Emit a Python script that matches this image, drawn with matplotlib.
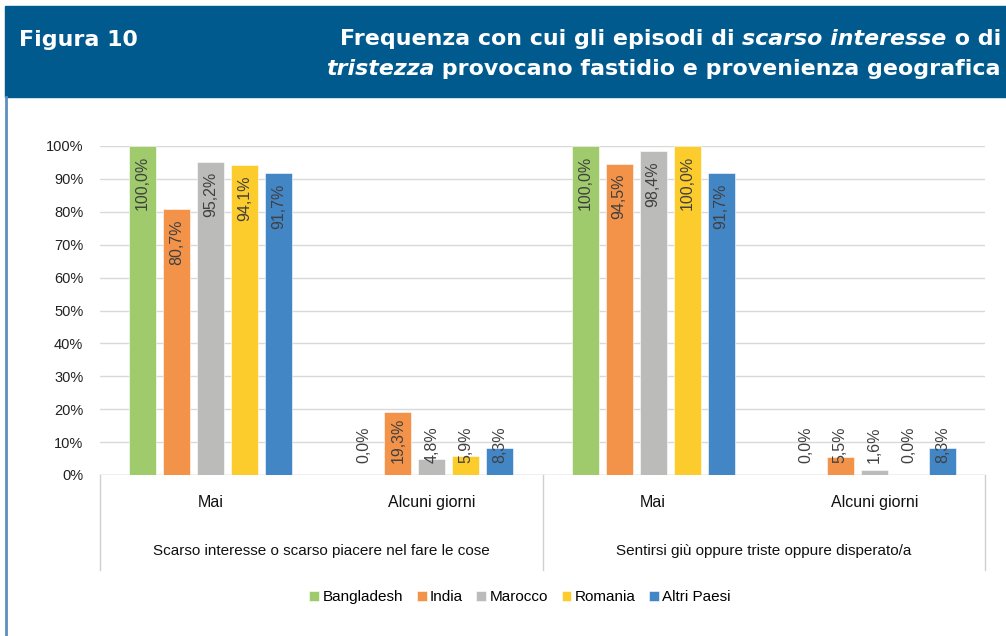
import matplotlib
matplotlib.use("Agg")
import matplotlib.pyplot as plt
from matplotlib.patches import Rectangle
from matplotlib.lines import Line2D
import matplotlib.transforms as mtransforms

# data
groups = ["Scarso interesse o scarso piacere nel fare le cose",
          "Sentirsi giù oppure triste oppure disperato/a"]
freq = ["Mai", "Alcuni giorni"]
countries = ["Bangladesh", "India", "Marocco", "Romania", "Altri Paesi"]
bangladesh = [100.0, 0.0, 100.0, 0.0]
india = [80.7, 19.3, 94.5, 5.5]
marocco = [95.2, 4.8, 98.4, 1.6]
romania = [94.1, 5.9, 100.0, 0.0]
altri = [91.7, 8.3, 91.7, 8.3]
series = [bangladesh, india, marocco, romania, altri]
colors = ["#A0CB6C", "#F3934A", "#BBBBB9", "#FCCB2C", "#4386C6"]

W, H = 1006, 636
fig = plt.figure(figsize=(W / 100, H / 100), dpi=100)
plt.rcParams['font.family'] = ['Liberation Sans', 'DejaVu Sans']

# header band and frame
fig.patches.append(Rectangle((5 / W, 1 - 97 / H), 1, 91 / H, transform=fig.transFigure,
                             color="#015A8D", zorder=0))
fig.lines.append(Line2D([5.5 / W, 5.5 / W], [0, 1 - 97 / H], transform=fig.transFigure,
                        color="#5B8FC2", lw=2))

ax = fig.add_axes([100 / W, 1 - 475 / H, 885 / W, 329 / H])
ncat = len(freq) * len(groups)
slot = 34 / 221
bw = 27 / 221
for i, (vals, c, name) in enumerate(zip(series, colors, countries)):
    xs = [k + (i - 2) * slot for k in range(ncat)]
    ax.bar(xs, vals, width=bw, color=c, label=name, zorder=2, edgecolor="white", linewidth=0.4)
    for x, v in zip(xs, vals):
        lab = f"{v:.1f}%".replace(".", ",")
        if v - 3 - 15 > 3.6:
            ax.text(x, v - 3, lab, rotation=90, ha="center", va="top",
                    fontsize=11.5, color="#404040", zorder=3)
        else:
            ax.text(x, 3.6, lab, rotation=90, ha="center", va="bottom",
                    fontsize=11.5, color="#404040", zorder=3)

ax.set_xlim(-0.5, ncat - 0.5)
ax.set_ylim(0, 100)
ax.set_yticks(range(0, 101, 10))
ax.set_yticklabels([f"{v}%" for v in range(0, 101, 10)], fontsize=10.5, color="#222222")
ax.yaxis.grid(True, color="#D9D9D9", lw=1, zorder=0)
ax.tick_params(axis="y", length=0, pad=12)
ax.set_xticks([])
for s in ax.spines.values():
    s.set_visible(False)
ax.axhline(0, color="#D0D0D0", lw=1, zorder=1)

tr = mtransforms.blended_transform_factory(ax.transData, ax.transAxes)
for k in range(ncat):
    ax.text(k, -0.085, freq[k % 2], transform=tr, ha="center", va="center",
            fontsize=11.5, color="#111111")
for g, name in enumerate(groups):
    ax.text(g * 2 + 0.5, -0.231, name, transform=tr, ha="center", va="center",
            fontsize=11, color="#111111")
for xsep in [-0.5, 1.5, 3.5]:
    ax.plot([xsep, xsep], [0, -0.289], transform=tr, color="#D0D0D0", lw=1, clip_on=False)

fig.legend(loc="center", bbox_to_anchor=(520 / W, 1 - 597 / H), ncol=5, frameon=False,
           fontsize=11, handlelength=0.65, handleheight=0.65, handletextpad=0.2,
           columnspacing=0.9)

# title
fs = 15.9
tfam = ["DejaVu Sans"]
fig.text(19 / W, 1 - 46 / H, "Figura 10", color="white", fontsize=fs, fontweight="bold",
         family=tfam, va="baseline", ha="left")
renderer = fig.canvas.get_renderer()
lines = [
    [("Frequenza con cui gli episodi di ", "normal"), ("scarso interesse", "italic"), (" o di", "normal")],
    [("tristezza", "italic"), (" provocano fastidio e provenienza geografica", "normal")],
]
for j, pieces in enumerate(lines):
    x = 1001 / W
    ybase = 1 - (45 + 30 * j) / H
    for txt, style in reversed(pieces):
        t = fig.text(x, ybase, txt, color="white", fontsize=fs, fontweight="bold",
                     family=tfam, style=style, ha="right", va="baseline")
        bb = t.get_window_extent(renderer)
        x -= bb.width / W

fig.savefig("out.png", dpi=100)
